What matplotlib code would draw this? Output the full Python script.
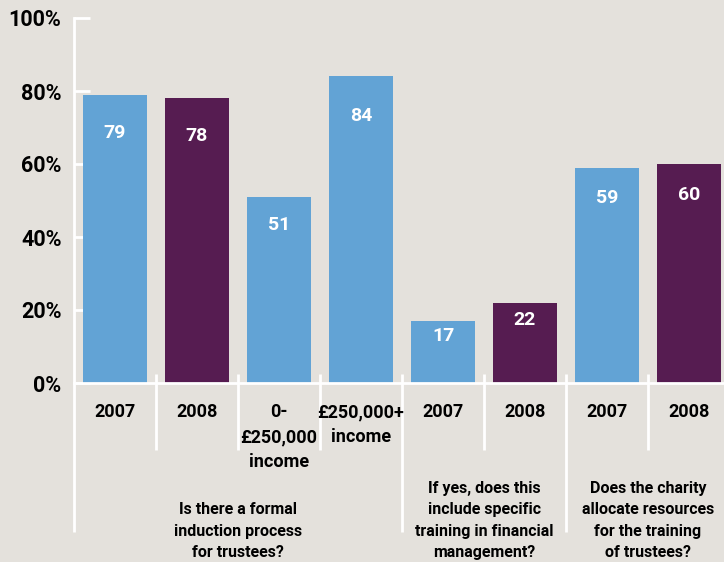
import matplotlib.pyplot as plt
import numpy as np

# bar labels, values and colours (blue = 2007 / income bands, purple = 2008)
cats = ["2007", "2008", "0-\n£250,000\nincome", "£250,000+\nincome",
        "2007", "2008", "2007", "2008"]
vals = [79, 78, 51, 84, 17, 22, 59, 60]
is_2008 = [False, True, False, False, False, True, False, True]

questions = ["Is there a formal\ninduction process\nfor trustees?",
             "If yes, does this\ninclude specific\ntraining in financial\nmanagement?",
             "Does the charity\nallocate resources\nfor the training\nof trustees?"]
q_centres = [1.5, 4.5, 6.5]

# separators below the axis: long ones split the question groups
seps = [0.5, 1.5, 2.5, 3.5, 4.5, 5.5, 6.5]
long_seps = [3.5, 5.5]

plt.rcParams["font.family"] = ["Roboto", "DejaVu Sans"]
plt.rcParams["font.weight"] = "bold"

bg = "#e4e1dc"
blue = "#62a3d5"
purple = "#561c51"

fig = plt.figure(figsize=(7.24, 5.62), dpi=100, facecolor=bg)
ax = fig.add_axes([74 / 724, 1 - 383 / 562, 650 / 724, 365 / 562])
ax.set_facecolor(bg)

x = np.arange(len(vals))
colors = [purple if p else blue for p in is_2008]
ax.bar(x, vals, width=0.77, color=colors, zorder=2)

# value labels sit a little below each bar top
for xi, v in zip(x, vals):
    ax.text(xi, 0.9 * v - 2.5, str(v), ha="center", va="center",
            color="white", fontsize=14, fontweight="bold")

ax.set_xlim(-0.5, -0.5 + 650 / 82)
ax.set_ylim(0, 100)

for s in ["top", "right"]:
    ax.spines[s].set_visible(False)
for s in ["left", "bottom"]:
    ax.spines[s].set_color("white")
    ax.spines[s].set_linewidth(2)
    ax.spines[s].set_zorder(3)

ax.set_yticks(range(0, 101, 20))
ax.set_yticklabels([f"{t}%" for t in range(0, 101, 20)], fontsize=15.5,
                   fontweight="bold")
ax.tick_params(axis="y", direction="in", length=11.5, width=2, color="white",
               pad=9)
ax.set_xticks([])

# y axis runs on below zero down to the question text
ax.plot([-0.5, -0.5], [0, -40.8], color="white", lw=2, clip_on=False,
        solid_capstyle="butt")
for s in seps:
    bottom = -40.8 if s in long_seps else -18.4
    ax.plot([s, s], [2.5, bottom], color="white", lw=2, clip_on=False,
            solid_capstyle="butt", zorder=3)

for xi, c in zip(x, cats):
    ax.text(xi, -5.5, c, ha="center", va="top", fontsize=13,
            fontweight="bold", linespacing=1.5, clip_on=False)

for xc, q in zip(q_centres, questions):
    ax.text(xc, -48.6, q, ha="center", va="bottom", fontsize=11.5,
            fontweight="bold", linespacing=1.55, clip_on=False)

fig.savefig("out.png", dpi=100, facecolor=bg)
